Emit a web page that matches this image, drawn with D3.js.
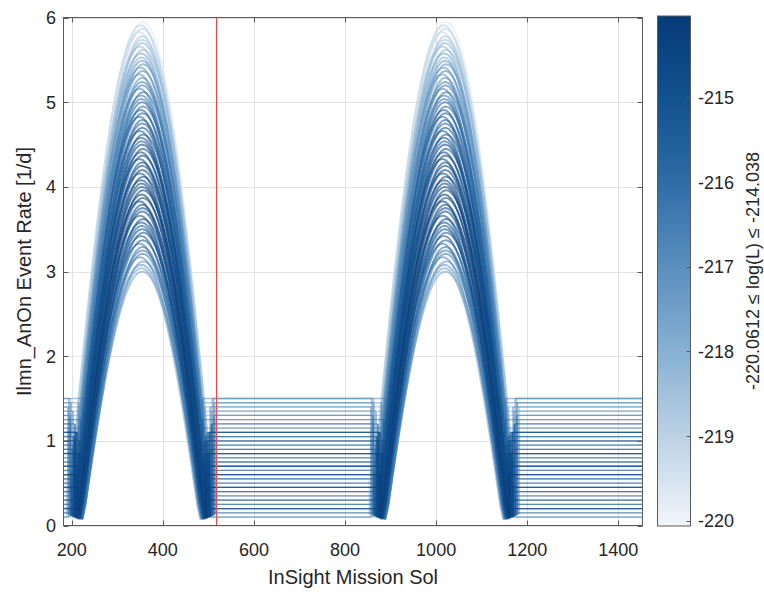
<!DOCTYPE html>
<html><head><meta charset="utf-8">
<script src="https://cdn.jsdelivr.net/npm/d3@7"></script>
<style>
body{margin:0;background:#fff;}
text{font-family:"Liberation Sans",Arial,Helvetica,sans-serif;fill:#262626;}
</style>
</head><body>
<svg id="chart" width="764" height="592"></svg>
<script>
// ---------- data ----------
const xDomain = [182, 1453];
const yDomain = [0, 6];
const xTicks = [200, 400, 600, 800, 1000, 1200, 1400];
const yTicks = [0, 1, 2, 3, 4, 5, 6];
const cbarDomain = [-220.0612, -214.038];
const cbarTicks = [-220, -219, -218, -217, -216, -215];
const cmapValues = [-220.0612, -219, -218, -217, -216, -215, -214.038];
const cmapColors = ['#f2f6fa', '#bcd2e5', '#87b0d2', '#5a8fbe', '#2f6ca6', '#12518f', '#063b78'];
const redLineSol = 518;
const marsYear = 665;           // sol offset of the second active season
const xLabel = 'InSight Mission Sol';
const yLabel = 'Ilmn_AnOn Event Rate [1/d]';
const cbarLabel = '-220.0612 \u2264 log(L) \u2264 -214.038';

// normalised seasonal profile (fraction of the season window -> fraction of peak rate)
const humpFrac = [0,0.025,0.05,0.075,0.1,0.125,0.15,0.175,0.2,0.225,0.25,0.275,0.3,0.325,0.35,0.375,0.4,0.425,0.45,0.475,0.5,
                  0.525,0.55,0.575,0.6,0.625,0.65,0.675,0.7,0.725,0.75,0.775,0.8,0.825,0.85,0.875,0.9,0.925,0.95,0.975,1];
const humpProfile = [0.025,0.0785,0.1564,0.2334,0.309,0.3827,0.454,0.5225,0.5878,0.6494,0.7071,0.7604,0.809,0.8526,0.891,0.9239,0.9511,0.9724,0.9877,0.9969,1,
                     0.9969,0.9877,0.9724,0.9511,0.9239,0.891,0.8526,0.809,0.7604,0.7071,0.6494,0.5878,0.5225,0.454,0.3827,0.309,0.2334,0.1564,0.0785,0.025];

// model ensemble: peak rate, season start / end sol, background rate, log-likelihood
const curvePeak = [3.00,3.04,3.08,3.12,3.17,3.21,3.25,3.29,3.33,3.37,3.42,3.46,3.50,3.54,3.58,3.62,3.66,3.71,3.75,3.79,3.83,3.87,3.91,3.96,
                   4.00,4.04,4.08,4.12,4.16,4.20,4.25,4.29,4.33,4.37,4.41,4.45,4.50,4.54,4.58,4.62,4.66,4.70,4.75,4.79,4.83,4.87,4.91,4.95,
                   5.00,5.04,5.08,5.12,5.16,5.20,5.24,5.29,5.33,5.37,5.41,5.45,5.49,5.53,5.58,5.62,5.66,5.70,5.74,5.78,5.83,5.87,5.91,5.95];
const curveStart = [222,224,218,223,215,223,218,224,214,219,215,221,216,220,213,217,210,217,213,218,209,214,212,216,
                    211,215,207,212,205,212,208,213,204,208,205,210,206,210,202,207,199,207,202,208,199,203,200,205,
                    201,204,197,202,194,202,197,203,193,198,194,200,196,199,192,196,189,196,192,198,188,193,189,195];
const curveEnd = [488,482,488,492,485,488,493,487,484,493,489,493,493,487,493,497,490,493,498,492,489,498,495,498,
                  498,492,498,502,495,498,502,497,494,503,499,503,503,497,503,507,500,503,508,502,499,508,504,508,
                  508,502,508,512,505,508,512,507,504,513,509,513,513,507,513,517,510,513,517,512,509,517,514,517];
const curveBase = [0.10,1.30,1.35,1.40,1.45,1.50,0.25,1.15,0.50,0.15,0.25,0.95,0.45,1.25,0.30,0.40,0.55,0.85,1.10,1.00,0.70,0.85,0.60,0.70,
                   0.45,0.60,1.00,0.20,0.60,0.30,1.10,0.70,1.05,0.20,0.85,1.10,0.45,0.75,0.20,1.20,0.65,0.90,0.35,0.80,0.55,0.40,0.50,1.05,
                   0.90,0.75,1.20,0.95,0.10,0.65,1.30,1.35,1.40,1.45,1.50,0.15,0.35,0.80,1.15,1.25,0.10,1.30,1.40,1.50,0.55,1.05,0.40,0.95];
const curveLogL = [-217.77,-217.69,-217.28,-217.26,-216.86,-216.51,-216.26,-216.24,-216.36,-215.51,-215.45,-215.49,-214.92,-215.55,-214.87,-215.09,-215.19,-214.42,-214.81,-214.82,-214.88,-214.74,-214.04,-214.72,
                   -214.46,-214.73,-214.70,-214.81,-214.88,-214.71,-214.63,-215.00,-215.20,-214.66,-214.90,-214.99,-214.76,-215.45,-214.92,-215.45,-215.54,-215.09,-215.62,-215.61,-215.93,-215.72,-215.45,-216.06,
                   -215.77,-216.28,-216.34,-216.39,-216.71,-216.47,-216.53,-217.12,-217.26,-216.97,-217.23,-217.33,-217.33,-217.96,-217.66,-218.33,-218.37,-218.16,-218.63,-218.69,-219.29,-219.02,-219.00,-219.70];

// ---------- layout ----------
const svg = d3.select('#chart');
const P = {l: 63.5, r: 642.5, t: 17.5, b: 525.5};
const CB = {l: 657.5, r: 690.5, t: 16, b: 526};

const x = d3.scaleLinear().domain(xDomain).range([P.l, P.r]);
const y = d3.scaleLinear().domain(yDomain).range([P.b, P.t]);
const color = d3.scaleLinear().domain(cmapValues).range(cmapColors).clamp(true);

svg.append('rect').attr('width', 764).attr('height', 592).attr('fill', '#fff');

// grid
const grid = svg.append('g').attr('stroke', '#e3e3e3').attr('stroke-width', 1);
grid.selectAll('.gx').data(xTicks).join('line')
  .attr('x1', d => Math.round(x(d)) + 0.5).attr('x2', d => Math.round(x(d)) + 0.5)
  .attr('y1', P.t).attr('y2', P.b);
grid.selectAll('.gy').data(yTicks).join('line')
  .attr('y1', d => Math.round(y(d)) + 0.5).attr('y2', d => Math.round(y(d)) + 0.5)
  .attr('x1', P.l).attr('x2', P.r);

// clip + soft rendering
const defs = svg.append('defs');
defs.append('clipPath').attr('id', 'clip')
  .append('rect').attr('x', P.l).attr('y', P.t).attr('width', P.r - P.l).attr('height', P.b - P.t);
defs.append('filter').attr('id', 'soft').attr('x', 0).attr('y', 0).attr('width', 1).attr('height', 1)
  .append('feGaussianBlur').attr('stdDeviation', 0.45);

// each ensemble member: background segments + two seasonal humps
function basePoints(i) {
  const b = curveBase[i];
  const segs = [];
  let from = xDomain[0];
  [0, 1].forEach(h => {
    segs.push([[from, b], [curveStart[i] + h * marsYear, b]]);
    from = curveEnd[i] + h * marsYear;
  });
  segs.push([[from, b], [xDomain[1], b]]);
  return segs;
}
function humpPoints(i, h) {
  const A = curvePeak[i], b = curveBase[i];
  const s0 = curveStart[i] + h * marsYear, s1 = curveEnd[i] + h * marsYear;
  const pts = [[s0, b]];
  humpFrac.forEach((f, j) => pts.push([s0 + (s1 - s0) * f, A * humpProfile[j]]));
  pts.push([s1, b]);
  return pts;
}
const line = d3.line().x(d => x(d[0])).y(d => y(d[1]));
const order = d3.range(curvePeak.length).sort((a, b) => curveLogL[a] - curveLogL[b]);
const plot = svg.append('g').attr('clip-path', 'url(#clip)').append('g').attr('filter', 'url(#soft)');
const members = plot.selectAll('g.m').data(order).join('g').attr('class', 'm');
members.each(function (i) {
  const g = d3.select(this);
  const c = color(curveLogL[i]);
  basePoints(i).forEach(seg => g.append('path').attr('d', line(seg))
    .attr('fill', 'none').attr('stroke', c).attr('stroke-width', 1.3).attr('stroke-opacity', 0.5));
  [0, 1].forEach(h => g.append('path').attr('d', line(humpPoints(i, h)))
    .attr('fill', 'none').attr('stroke', c).attr('stroke-width', 1.9).attr('stroke-opacity', 0.6)
    .attr('stroke-linejoin', 'round'));
});

// red marker line
svg.append('line')
  .attr('x1', x(redLineSol)).attr('x2', x(redLineSol))
  .attr('y1', P.t).attr('y2', P.b)
  .attr('stroke', '#e8484a').attr('stroke-width', 1.2);

// axes box and ticks
const axc = '#5a5a5a';
svg.append('rect').attr('x', P.l).attr('y', P.t).attr('width', P.r - P.l).attr('height', P.b - P.t)
  .attr('fill', 'none').attr('stroke', axc).attr('stroke-width', 1);
const tk = svg.append('g').attr('stroke', axc).attr('stroke-width', 1);
xTicks.forEach(d => {
  const xx = Math.round(x(d)) + 0.5;
  tk.append('line').attr('x1', xx).attr('x2', xx).attr('y1', P.b).attr('y2', P.b - 5);
  tk.append('line').attr('x1', xx).attr('x2', xx).attr('y1', P.t).attr('y2', P.t + 5);
});
yTicks.forEach(d => {
  const yy = Math.round(y(d)) + 0.5;
  tk.append('line').attr('y1', yy).attr('y2', yy).attr('x1', P.l).attr('x2', P.l + 5);
  tk.append('line').attr('y1', yy).attr('y2', yy).attr('x1', P.r).attr('x2', P.r - 5);
});
svg.append('g').selectAll('text').data(xTicks).join('text')
  .attr('x', d => x(d)).attr('y', 556).attr('text-anchor', 'middle')
  .attr('font-size', 18).text(d => d);
svg.append('g').selectAll('text').data(yTicks).join('text')
  .attr('x', 56).attr('y', d => y(d) + 6.5).attr('text-anchor', 'end')
  .attr('font-size', 18).text(d => d);

svg.append('text').attr('x', (P.l + P.r) / 2).attr('y', 584).attr('text-anchor', 'middle')
  .attr('font-size', 20).text(xLabel);
svg.append('text').attr('transform', `translate(31,${(P.t + P.b) / 2}) rotate(-90)`)
  .attr('text-anchor', 'middle').attr('font-size', 20).text(yLabel);

// colorbar
const cy = d3.scaleLinear().domain(cbarDomain).range([CB.b, CB.t]);
const grad = defs.append('linearGradient').attr('id', 'cbg')
  .attr('x1', 0).attr('y1', 1).attr('x2', 0).attr('y2', 0);
cmapValues.forEach((v, i) => grad.append('stop')
  .attr('offset', (v - cbarDomain[0]) / (cbarDomain[1] - cbarDomain[0]))
  .attr('stop-color', cmapColors[i]));
svg.append('rect').attr('x', CB.l).attr('y', CB.t).attr('width', CB.r - CB.l).attr('height', CB.b - CB.t)
  .attr('fill', 'url(#cbg)').attr('stroke', axc).attr('stroke-width', 1);
cbarTicks.forEach(d => {
  const yy = Math.round(cy(d)) + 0.5;
  svg.append('line').attr('x1', CB.r).attr('x2', CB.r - 4).attr('y1', yy).attr('y2', yy)
    .attr('stroke', axc).attr('stroke-width', 1);
});
svg.append('g').selectAll('text').data(cbarTicks).join('text')
  .attr('x', 698).attr('y', d => cy(d) + 6.5).attr('font-size', 18).text(d => d);
svg.append('text').attr('transform', `translate(759,${(CB.t + CB.b) / 2}) rotate(-90)`)
  .attr('text-anchor', 'middle').attr('font-size', 18).text(cbarLabel);
</script>
</body></html>
